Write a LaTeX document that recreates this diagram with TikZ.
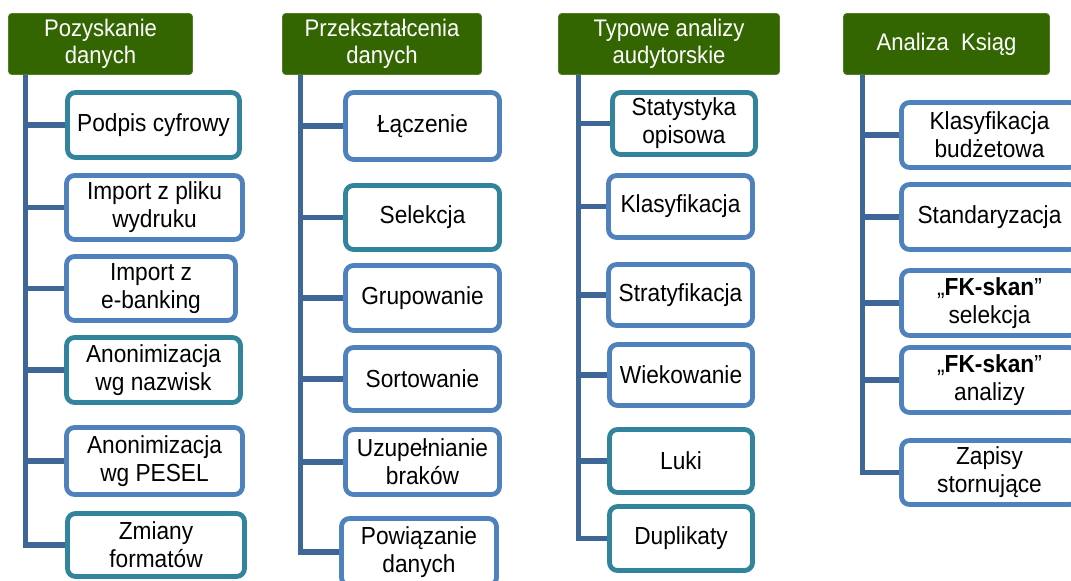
\documentclass[tikz,border=0pt]{standalone}
\usepackage{fontspec}
\setmainfont{Liberation Sans}[FakeStretch=0.92]
\definecolor{tealc}{HTML}{31849B}
\definecolor{bluec}{HTML}{4F81BD}
\definecolor{trunkc}{HTML}{3E6697}
\definecolor{greenc}{HTML}{336600}
\tikzset{
  bw/.style={minimum width=#1*0.75pt},
  bh/.style={minimum height=#1*0.75pt},
  basebox/.style={rounded corners=6pt, line width=3.6pt, fill=white, inner sep=0pt, align=center,
     font=\fontsize{18.5}{21}\selectfont},
  tealbox/.style={basebox, draw=tealc},
  bluebox/.style={basebox, draw=bluec},
  headbox/.style={rounded corners=2.5pt, fill=greenc, draw=greenc!85!white, line width=0.6pt,
     inner sep=0pt, align=center, text=white, font=\fontsize{18}{20.3}\selectfont},
  trunk/.style={draw=trunkc, line width=3.8pt}
}
\begin{document}
\begin{tikzpicture}[x=0.75pt,y=-0.75pt]
\useasboundingbox (0,0) rectangle (1071,581);
% headers
\node[headbox, bw=184, bh=61] (h1) at (100.5,44) {Pozyskanie\\danych};
\node[headbox, bw=199, bh=61] (h2) at (382,44) {Przekształcenia\\danych};
\node[headbox, bw=221, bh=61] (h3) at (669,44) {Typowe analizy\\audytorskie};
\node[headbox, bw=206, bh=61] (h4) at (946.5,44) {Analiza\ \ Ksiąg};
% column 1
\node[tealbox, bw=172, bh=65] (a1) at (153.5,125) {Podpis cyfrowy};
\node[bluebox, bw=176, bh=64] (a2) at (154.5,207.5) {Import z pliku\\wydruku};
\node[bluebox, bw=169, bh=64] (a3) at (151,288.5) {Import z\\e-banking};
\node[tealbox, bw=174, bh=65] (a4) at (153.5,370) {Anonimizacja\\wg nazwisk};
\node[bluebox, bw=176, bh=67] (a5) at (154.5,461) {Anonimizacja\\wg PESEL};
\node[tealbox, bw=177, bh=63] (a6) at (156,545) {Zmiany\\formatów};
% column 2
\node[bluebox, bw=154, bh=67] (b1) at (422.5,126) {Łączenie};
\node[tealbox, bw=154, bh=64] (b2) at (422.5,217.5) {Selekcja};
\node[bluebox, bw=154, bh=65] (b3) at (422.5,298) {Grupowanie};
\node[bluebox, bw=154, bh=63] (b4) at (422.5,379) {Sortowanie};
\node[bluebox, bw=154, bh=65] (b5) at (422.5,462) {Uzupełnianie\\braków};
\node[bluebox, bw=155, bh=67] (b6) at (419,552) {Powiązanie\\danych};
% column 3
\node[tealbox, bw=143, bh=62] (c1) at (684,123.5) {Statystyka\\opisowa};
\node[bluebox, bw=144, bh=62] (c2) at (680.5,206.5) {Klasyfikacja};
\node[bluebox, bw=144, bh=61] (c3) at (680.5,295) {Stratyfikacja};
\node[bluebox, bw=143, bh=61] (c4) at (681,375) {Wiekowanie};
\node[tealbox, bw=143, bh=63] (c5) at (681,461) {Luki};
\node[tealbox, bw=143, bh=64] (c6) at (681,538.5) {Duplikaty};
% column 4
\node[bluebox, bw=176, bh=65] (d1) at (989.5,135) {Klasyfikacja\\budżetowa};
\node[bluebox, bw=176, bh=65] (d2) at (989.5,217) {Standaryzacja};
\node[bluebox, bw=176, bh=65] (d3) at (989.5,303) {„\textbf{FK-skan}”\\selekcja};
\node[bluebox, bw=176, bh=65] (d4) at (989.5,380) {„\textbf{FK-skan}”\\analizy};
\node[bluebox, bw=176, bh=64] (d5) at (989.5,472.5) {Zapisy\\stornujące};
% connectors
\foreach \i in {1,...,6} \draw[trunk] ([xshift=12.75pt]h1.south west) |- (a\i.west);
\foreach \i in {1,...,6} \draw[trunk] ([xshift=13.5pt]h2.south west) |- (b\i.west);
\foreach \i in {1,...,6} \draw[trunk] ([xshift=15pt]h3.south west) |- (c\i.west);
\foreach \i in {1,...,5} \draw[trunk] ([xshift=14.25pt]h4.south west) |- (d\i.west);
\end{tikzpicture}
\end{document}
